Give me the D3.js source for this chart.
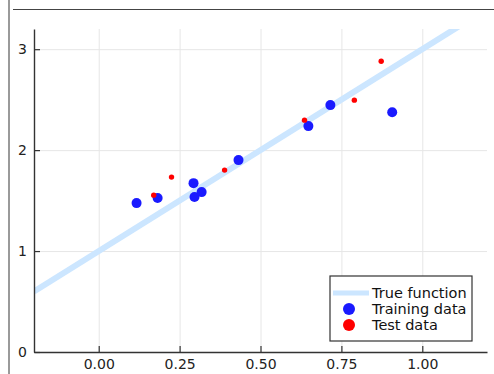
<!DOCTYPE html>
<html>
<head>
<meta charset="utf-8">
<script src="https://cdn.jsdelivr.net/npm/d3@7"></script>
<style>
  body { margin: 0; background: #fff; }
  svg { display: block; font-family: "DejaVu Sans", sans-serif; }
</style>
</head>
<body>
<div id="chart"></div>
<script>
// true function: y = 1 + 2x, drawn across the x domain
const trueX = [-0.2, 1.2];
const trueY = [0.6, 3.4];

const trainX = [0.117, 0.182, 0.293, 0.296, 0.318, 0.432, 0.648, 0.716, 0.907];
const trainY = [1.475, 1.525, 1.673, 1.535, 1.584, 1.901, 2.238, 2.446, 2.376];

const testX = [0.170, 0.225, 0.389, 0.636, 0.790, 0.873];
const testY = [1.554, 1.733, 1.802, 2.297, 2.495, 2.881];

const xTicks = [0, 0.25, 0.5, 0.75, 1.0];
const yTicks = [0, 1, 2, 3];
const legendLabels = ['True function', 'Training data', 'Test data'];

const W = 494, H = 374;
const margin = { top: 29, right: 7, bottom: 22, left: 34 };
const width = W - margin.left - margin.right;
const height = H - margin.top - margin.bottom;

const svg = d3.select('#chart').append('svg')
  .attr('width', W)
  .attr('height', H);

// outer frame bits (cropped figure border)
svg.append('line')
  .attr('x1', 9).attr('x2', 9).attr('y1', 0).attr('y2', H)
  .attr('stroke', '#9a9a9a').attr('stroke-width', 2);
svg.append('line')
  .attr('x1', 13).attr('x2', W).attr('y1', 9.5).attr('y2', 9.5)
  .attr('stroke', '#444').attr('stroke-width', 1.2);

const g = svg.append('g')
  .attr('transform', `translate(${margin.left},${margin.top})`);

const x = d3.scaleLinear().domain([-0.2, 1.2]).range([0, width]);
const y = d3.scaleLinear().domain([0, 3.2]).range([height, 0]);

// grid
g.append('g')
  .attr('transform', `translate(0,${height})`)
  .call(d3.axisBottom(x).tickValues(xTicks).tickSize(-height).tickFormat(() => ''))
  .call(s => s.select('.domain').remove())
  .selectAll('line').attr('stroke', '#e6e6e6');
g.append('g')
  .call(d3.axisLeft(y).tickValues(yTicks.filter(d => d > 0)).tickSize(-width).tickFormat(() => ''))
  .call(s => s.select('.domain').remove())
  .selectAll('line').attr('stroke', '#e6e6e6');

// true function line
g.append('clipPath').attr('id', 'clip')
  .append('rect').attr('width', width).attr('height', height);
const lineData = trueX.map((d, i) => [d, trueY[i]]);
g.append('path')
  .datum(lineData)
  .attr('clip-path', 'url(#clip)')
  .attr('fill', 'none')
  .attr('stroke', 'rgb(204,230,255)')
  .attr('stroke-width', 6)
  .attr('d', d3.line().x(d => x(d[0])).y(d => y(d[1])));

// training data
g.selectAll('.train')
  .data(trainX.map((d, i) => [d, trainY[i]]))
  .join('circle')
  .attr('cx', d => x(d[0]))
  .attr('cy', d => y(d[1]))
  .attr('r', 5)
  .attr('fill', '#1a1aff');

// test data
g.selectAll('.test')
  .data(testX.map((d, i) => [d, testY[i]]))
  .join('circle')
  .attr('cx', d => x(d[0]))
  .attr('cy', d => y(d[1]))
  .attr('r', 2.7)
  .attr('fill', '#ff0000');

// axes
const xAxis = g.append('g')
  .attr('transform', `translate(0,${height})`)
  .call(d3.axisBottom(x).tickValues(xTicks).tickSizeInner(-6).tickSizeOuter(0).tickPadding(7)
    .tickFormat(d3.format('.2f')));
const yAxis = g.append('g')
  .call(d3.axisLeft(y).tickValues(yTicks).tickSizeInner(-6).tickSizeOuter(0).tickPadding(7)
    .tickFormat(d3.format('d')));
[xAxis, yAxis].forEach(a => {
  a.select('.domain').attr('stroke', '#333').attr('stroke-width', 1.4);
  a.selectAll('.tick line').attr('stroke', '#333').attr('stroke-width', 1.2);
  a.selectAll('text').attr('fill', '#222').style('font-size', '14px')
    .style('font-family', '"DejaVu Sans", sans-serif');
});

// legend
const lg = svg.append('g').attr('transform', 'translate(330,276)');
lg.append('rect')
  .attr('width', 142).attr('height', 65)
  .attr('fill', '#fff').attr('stroke', '#333').attr('stroke-width', 1.2);
const rowY = [17, 33, 49];
lg.append('line')
  .attr('x1', 3).attr('x2', 39).attr('y1', rowY[0]).attr('y2', rowY[0])
  .attr('stroke', 'rgb(204,230,255)').attr('stroke-width', 5);
lg.append('circle').attr('cx', 19).attr('cy', rowY[1]).attr('r', 6).attr('fill', '#1a1aff');
lg.append('circle').attr('cx', 19).attr('cy', rowY[2]).attr('r', 6).attr('fill', '#ff0000');
lg.selectAll('.lt')
  .data(legendLabels)
  .join('text')
  .attr('x', 42)
  .attr('y', (d, i) => rowY[i])
  .attr('dy', '0.35em')
  .attr('fill', '#111')
  .style('font-size', '14.5px')
  .text(d => d);
</script>
</body>
</html>
